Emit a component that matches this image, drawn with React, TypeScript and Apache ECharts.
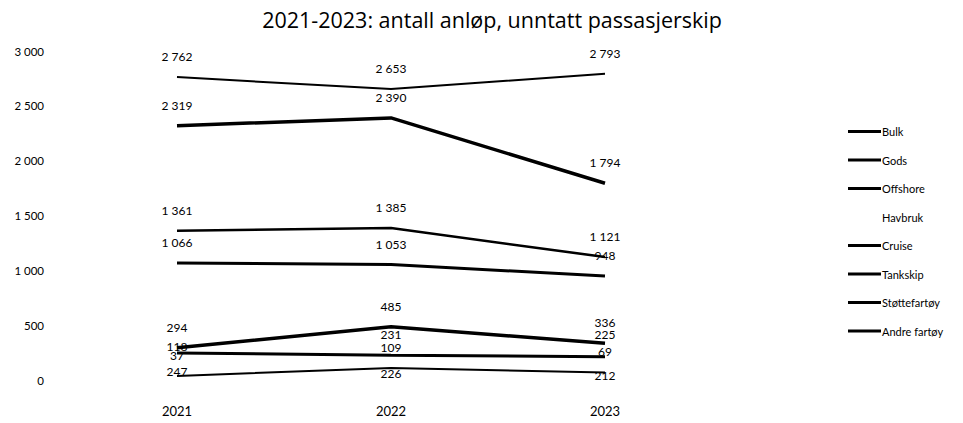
import React, { useEffect, useRef } from "react";
import * as echarts from "echarts";

const years = ["2021", "2022", "2023"];
const seriesNames = ["Bulk", "Gods", "Offshore", "Havbruk", "Cruise", "Tankskip", "Støttefartøy", "Andre fartøy"];
const bulk = [2319, 2390, 1794];
const gods = [2762, 2653, 2793];
const offshore = [1361, 1385, 1121];
const havbruk = [118, 231, 225];
const cruise = [37, 109, 69];
const tankskip = [1066, 1053, 948];
const stottefartoy = [294, 485, 336];
const andreFartoy = [247, 226, 212];

const seriesData = [bulk, gods, offshore, havbruk, cruise, tankskip, stottefartoy, andreFartoy];
const widths = [3.5, 2, 2.5, 0, 2, 3, 3.5, 3];
const labelPos = ["top", "top", "top", "top", "top", "top", "top", "bottom"];

const fmt = (v: number) => String(v).replace(/\B(?=(\d{3})+(?!\d))/g, " ");
const FONT = "Lato";

export default function App() {
  const ref = useRef<HTMLDivElement>(null);
  useEffect(() => {
    document.body.style.margin = "0";
    if (!ref.current) return;
    const chart = echarts.init(ref.current, null, { renderer: "svg" });
    chart.setOption({
      animation: false,
      backgroundColor: "#fff",
      title: {
        text: "2021-2023: antall anløp, unntatt passasjerskip",
        left: 487,
        textAlign: "center",
        top: 3,
        textStyle: { fontFamily: "Open Sans", fontSize: 21.5, fontWeight: "normal", color: "#000" },
      },
      legend: {
        orient: "vertical",
        left: 843,
        top: 121,
        itemGap: 17.5,
        itemWidth: 33,
        itemHeight: 3,
        icon: "rect",
        textStyle: { fontFamily: FONT, fontSize: 11, color: "#000", padding: [0, 0, 0, -4] },
        data: seriesNames.map((n, i) => ({
          name: n,
          itemStyle: { color: widths[i] === 0 ? "rgba(0,0,0,0)" : "#000" },
        })),
      },
      grid: { left: 70, width: 642, top: 51, height: 329 },
      xAxis: {
        type: "category",
        data: years,
        boundaryGap: true,
        axisLine: { show: false },
        axisTick: { show: false },
        axisLabel: { fontFamily: FONT, fontSize: 13, color: "#000", margin: 24 },
      },
      yAxis: {
        type: "value",
        min: 0,
        max: 3000,
        interval: 500,
        splitLine: { show: false },
        axisLine: { show: false },
        axisTick: { show: false },
        axisLabel: { fontFamily: FONT, fontSize: 11.5, color: "#000", margin: 26, formatter: (v: number) => fmt(v) },
      },
      series: seriesNames.map((n, i) => ({
        name: n,
        type: "line",
        data: seriesData[i],
        symbol: "circle",
        symbolSize: 1,
        itemStyle: { color: "rgba(0,0,0,0)" },
        lineStyle: { color: widths[i] === 0 ? "rgba(0,0,0,0)" : "#000", width: widths[i] },
        label: {
          show: true,
          position: labelPos[i],
          distance: labelPos[i] === "top" ? 14 : 12,
          fontFamily: FONT,
          fontSize: 12,
          color: "#000",
          formatter: (p: any) => fmt(p.value),
        },
      })),
    });
    return () => chart.dispose();
  }, []);
  return <div ref={ref} style={{ width: 963, height: 423 }} />;
}
